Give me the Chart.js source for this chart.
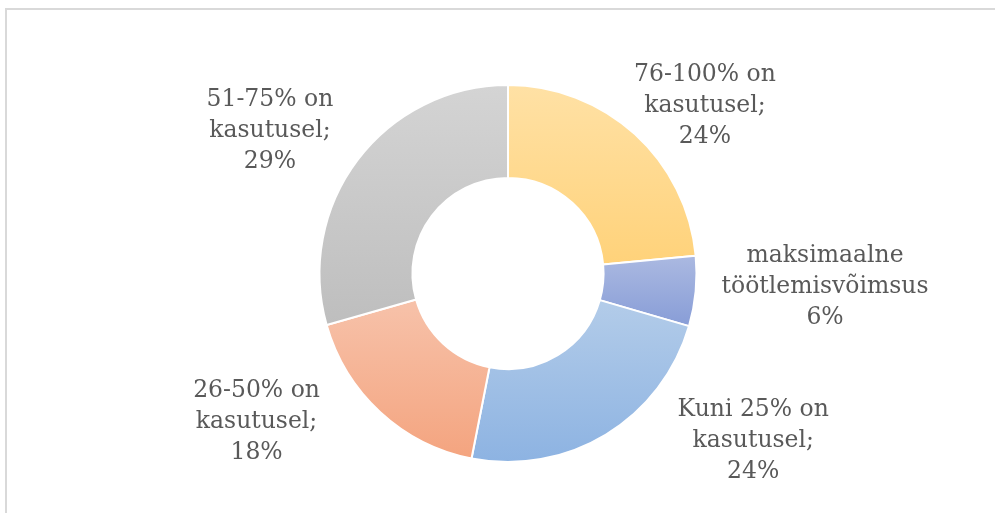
<!DOCTYPE html>
<html><head><meta charset="utf-8">
<script src="https://cdn.jsdelivr.net/npm/chart.js@4.4.0/dist/chart.umd.min.js"></script>
<style>
html,body{margin:0;padding:0;background:#fff;}
#wrap{position:relative;width:995px;height:513px;overflow:hidden;}
#frame{position:absolute;left:5px;top:8px;width:1100px;height:600px;border-top:2px solid #d9d9d9;border-left:2px solid #d9d9d9;}
canvas{position:absolute;left:0;top:0;}
</style></head><body>
<div id="wrap"><div id="frame"></div><canvas id="c" width="995" height="513"></canvas></div>
<script>
// ---- data ----
const categories = ['76-100% on kasutusel', 'maksimaalne töötlemisvõimsus', 'Kuni 25% on kasutusel', '26-50% on kasutusel', '51-75% on kasutusel'];
const values = [23.5, 6.0, 23.6, 17.5, 29.4];
const labelNameLines = [['76-100% on', 'kasutusel;'], ['maksimaalne', 'töötlemisvõimsus'], ['Kuni 25% on', 'kasutusel;'], ['26-50% on', 'kasutusel;'], ['51-75% on', 'kasutusel;']];

// ---- styles / layout ----
const gradTop = ['#FFE1A5', '#ABB9E1', '#B3CCE9', '#F7C2AA', '#D4D4D4'];
const gradBottom = ['#FFD27A', '#889DD7', '#8DB3E2', '#F4A47F', '#BEBEBE'];
// label anchor (centre x, baseline of middle line) relative to doughnut centre, in outer-radius units
const labelAnchors = [[1.045, -0.858], [1.682, 0.103], [1.301, 0.918], [-1.334, 0.820], [-1.263, -0.724]];
const total = values.reduce((a, b) => a + b, 0);

const gradientPlugin = {
  id: 'sliceGradient',
  beforeDatasetsDraw(chart) {
    const ctx = chart.ctx;
    const meta = chart.getDatasetMeta(0);
    meta.data.forEach((arc, i) => {
      const p = arc.getProps(['x', 'y', 'startAngle', 'endAngle', 'innerRadius', 'outerRadius'], true);
      let minY = Infinity, maxY = -Infinity;
      const n = 90;
      for (let k = 0; k <= n; k++) {
        const a = p.startAngle + (p.endAngle - p.startAngle) * k / n;
        for (const r of [p.innerRadius, p.outerRadius]) {
          const y = p.y + r * Math.sin(a);
          if (y < minY) minY = y;
          if (y > maxY) maxY = y;
        }
      }
      const g = ctx.createLinearGradient(0, minY, 0, maxY);
      g.addColorStop(0, gradTop[i]);
      g.addColorStop(1, gradBottom[i]);
      arc.options.backgroundColor = g;
    });
  }
};

const labelPlugin = {
  id: 'outerLabels',
  afterDatasetsDraw(chart) {
    const ctx = chart.ctx;
    const meta = chart.getDatasetMeta(0);
    ctx.save();
    ctx.font = '23.5px "DejaVu Serif"';
    ctx.fillStyle = '#595959';
    ctx.textAlign = 'center';
    ctx.textBaseline = 'alphabetic';
    meta.data.forEach((arc, i) => {
      const p = arc.getProps(['x', 'y', 'outerRadius'], true);
      const pct = Math.round(values[i] * 100 / total) + '%';
      const lines = labelNameLines[i].concat([pct]);
      const ax = p.x + labelAnchors[i][0] * p.outerRadius;
      const ay = p.y + labelAnchors[i][1] * p.outerRadius;
      const pitch = 31;
      lines.forEach((t, k) => {
        ctx.fillText(t, ax, ay + (k - 1) * pitch);
      });
    });
    ctx.restore();
  }
};

new Chart(document.getElementById('c'), {
  type: 'doughnut',
  data: {
    labels: categories,
    datasets: [{
      data: values,
      backgroundColor: (c) => gradTop[c.dataIndex],
      borderColor: '#ffffff',
      borderWidth: 2
    }]
  },
  options: {
    responsive: false,
    devicePixelRatio: 1,
    animation: false,
    events: [],
    cutout: '50.7%',
    layout: { padding: { left: 21, right: 0, top: 84, bottom: 50 } },
    plugins: { legend: { display: false }, tooltip: { enabled: false } }
  },
  plugins: [gradientPlugin, labelPlugin]
});
</script>
</body></html>
